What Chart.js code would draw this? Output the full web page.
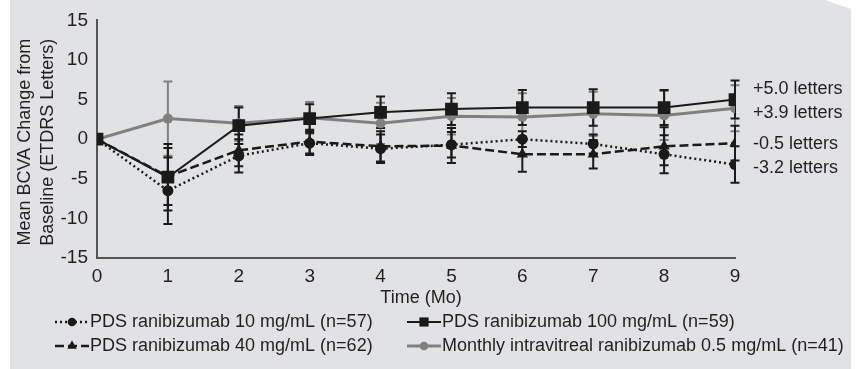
<!DOCTYPE html>
<html>
<head>
<meta charset="utf-8">
<script src="https://cdn.jsdelivr.net/npm/chart.js@4/dist/chart.umd.min.js"></script>
<style>
  html, body { margin: 0; padding: 0; background: #ffffff; }
  #wrap { position: relative; width: 857px; height: 369px; }
  #panel { position: absolute; left: 0; top: 0; width: 857px; height: 369px; background: #e1e2e4;
           clip-path: polygon(10px 0, 825px 0, 851px 9px, 851px 369px, 10px 369px); }
  canvas { position: absolute; left: 0; top: 0; }
</style>
</head>
<body>
<div id="wrap">
  <div id="panel"></div>
  <canvas id="c" width="857" height="369"></canvas>
</div>
<script>
// ---- data ----
const months = [0, 1, 2, 3, 4, 5, 6, 7, 8, 9];
const xTickLabels = ['0', '1', '2', '3', '4', '5', '6', '7', '8', '9'];
const yTickValues = [-15, -10, -5, 0, 5, 10, 15];

const seriesNames = [
  'PDS ranibizumab 10 mg/mL (n=57)',
  'PDS ranibizumab 40 mg/mL (n=62)',
  'PDS ranibizumab 100 mg/mL (n=59)',
  'Monthly intravitreal ranibizumab 0.5 mg/mL (n=41)'
];

const pds10    = [0, -6.5, -2.1, -0.5, -1.2, -0.7,  0.0, -0.6, -1.9, -3.2];
const pds10Err = [0,  4.2,  2.1,  1.5,  1.8,  1.6,  1.0,  1.2,  2.4,  2.3];

const pds40    = [0, -4.7, -1.4, -0.3, -0.9, -0.8, -1.9, -1.9, -0.9, -0.5];
const pds40Err = [0,  3.6,  2.0,  1.5,  1.9,  2.2,  2.2,  1.8,  2.4,  2.2];

const pds100    = [0, -4.8, 1.7, 2.6, 3.4, 3.8, 4.0, 4.0, 4.0, 5.0];
const pds100Err = [0,  4.2, 2.3, 1.8, 2.0, 2.0, 2.2, 2.3, 2.2, 2.4];

const monthly    = [0, 2.6, 2.0, 2.7, 2.0, 2.9, 2.8, 3.2, 3.0, 3.9];
const monthlyErr = [0, 4.7, 2.2, 2.0, 2.6, 2.3, 3.0, 2.8, 3.1, 2.9];

const endLabels = ['-3.2 letters', '-0.5 letters', '+5.0 letters', '+3.9 letters'];

const yTitle = ['Mean BCVA Change from', 'Baseline (ETDRS Letters)'];
const xTitle = 'Time (Mo)';

// ---- styling ----
const FONT = '"Liberation Sans", Arial, Helvetica, sans-serif';
const TXT = '#231f20';
const BLACK = '#1a1a1a';
const GRAY = '#808080';

function pts(vals) { return months.map((m, i) => ({ x: m, y: vals[i] })); }

const datasets = [
  { label: seriesNames[0], data: pts(pds10), errors: pds10Err, endLabel: endLabels[0], endOffset: 3,
    borderColor: BLACK, backgroundColor: BLACK, borderWidth: 2.5, borderDash: [2, 3],
    pointStyle: 'circle', pointRadius: 5.5, legendRadius: 4.3, order: 1 },
  { label: seriesNames[1], data: pts(pds40), errors: pds40Err, endLabel: endLabels[1], endOffset: 1,
    borderColor: BLACK, backgroundColor: BLACK, borderWidth: 2.5, borderDash: [9, 4],
    pointStyle: 'triangle', pointRadius: 6.5, legendRadius: 5.5, order: 2 },
  { label: seriesNames[2], data: pts(pds100), errors: pds100Err, endLabel: endLabels[2], endOffset: -11,
    borderColor: BLACK, backgroundColor: BLACK, borderWidth: 2, borderDash: [],
    pointStyle: 'rect', pointRadius: 9, legendRadius: 6.5, order: 3 },
  { label: seriesNames[3], data: pts(monthly), errors: monthlyErr, endLabel: endLabels[3], endOffset: 5,
    borderColor: GRAY, backgroundColor: GRAY, borderWidth: 3, borderDash: [],
    pointStyle: 'circle', pointRadius: 5, legendRadius: 4.3, order: 4 }
];
datasets.forEach(d => {
  d.pointBackgroundColor = d.borderColor;
  d.pointBorderColor = d.borderColor;
  d.pointBorderWidth = 0;
  d.pointHoverRadius = d.pointRadius;
  d.tension = 0;
  d.fill = false;
});

const errorBarPlugin = {
  id: 'errorBars',
  beforeDatasetsDraw(chart) {
    const ctx = chart.ctx, xs = chart.scales.x, ys = chart.scales.y;
    const order = [3, 0, 1, 2];
    ctx.save();
    order.forEach(di => {
      const ds = chart.data.datasets[di];
      ctx.strokeStyle = ds.borderColor;
      ctx.lineWidth = 2;
      ctx.setLineDash([]);
      ds.data.forEach((p, i) => {
        const e = ds.errors[i];
        if (!e) return;
        const px = xs.getPixelForValue(p.x);
        const y1 = ys.getPixelForValue(p.y + e);
        const y2 = ys.getPixelForValue(p.y - e);
        ctx.beginPath();
        ctx.moveTo(px, y1); ctx.lineTo(px, y2);
        ctx.moveTo(px - 4.5, y1); ctx.lineTo(px + 4.5, y1);
        ctx.moveTo(px - 4.5, y2); ctx.lineTo(px + 4.5, y2);
        ctx.stroke();
      });
    });
    ctx.restore();
  }
};

const annotPlugin = {
  id: 'annot',
  afterDraw(chart) {
    const ctx = chart.ctx, xs = chart.scales.x, ys = chart.scales.y;
    const area = chart.chartArea;
    ctx.save();
    ctx.fillStyle = TXT;
    ctx.font = '18px ' + FONT;
    ctx.textBaseline = 'middle';

    // end-of-line labels
    ctx.textAlign = 'left';
    chart.data.datasets.forEach(ds => {
      const last = ds.data[ds.data.length - 1];
      const y = ys.getPixelForValue(last.y) + ds.endOffset;
      ctx.fillText(ds.endLabel, area.right + 18, y);
    });

    // x title
    ctx.textAlign = 'center';
    ctx.fillText(xTitle, (area.left + area.right) / 2 + 5, area.bottom + 40);

    // y title (two lines, rotated)
    ctx.save();
    ctx.translate(25, (area.top + area.bottom) / 2 + 3);
    ctx.rotate(-Math.PI / 2);
    ctx.fillText(yTitle[0], 0, 0);
    ctx.fillText(yTitle[1], 0, 23);
    ctx.restore();

    // legend
    const slots = [
      { x: 55, y: 322 }, { x: 55, y: 346 },
      { x: 407, y: 322 }, { x: 407, y: 346 }
    ];
    chart.data.datasets.forEach((ds, i) => {
      const s = slots[i];
      const w = 34;
      ctx.save();
      ctx.strokeStyle = ds.borderColor;
      ctx.lineWidth = ds.borderWidth;
      ctx.setLineDash(ds.borderDash || []);
      ctx.beginPath();
      ctx.moveTo(s.x, s.y); ctx.lineTo(s.x + w, s.y);
      ctx.stroke();
      ctx.setLineDash([]);
      ctx.fillStyle = ds.borderColor;
      Chart.helpers.drawPoint(ctx, { pointStyle: ds.pointStyle, radius: ds.legendRadius, rotation: 0, borderWidth: 0 }, s.x + w / 2, s.y);
      ctx.restore();
      ctx.textAlign = 'left';
      ctx.fillStyle = TXT;
      ctx.fillText(ds.label, s.x + w + 1, s.y);
    });
    ctx.restore();
  }
};

new Chart(document.getElementById('c'), {
  type: 'line',
  data: { datasets },
  plugins: [errorBarPlugin, annotPlugin],
  options: {
    responsive: false,
    animation: false,
    devicePixelRatio: 1,
    layout: { padding: { top: 19, right: 122, left: 0, bottom: 0 } },
    plugins: { legend: { display: false }, tooltip: { enabled: false } },
    scales: {
      x: {
        type: 'linear', min: 0, max: 9,
        afterFit: s => { s.height = 111; },
        afterBuildTicks: s => { s.ticks = months.map(v => ({ value: v })); },
        ticks: { callback: (v, i) => xTickLabels[i], color: TXT, padding: 7,
                 font: { family: FONT, size: 19 }, maxRotation: 0, autoSkip: false },
        grid: { display: false, drawTicks: false },
        border: { display: true, color: '#555555', width: 2 }
      },
      y: {
        type: 'linear', min: -15, max: 15,
        afterFit: s => { s.width = 97; },
        afterBuildTicks: s => { s.ticks = yTickValues.map(v => ({ value: v })); },
        ticks: { color: TXT, padding: 9, font: { family: FONT, size: 19 } },
        grid: { display: false, drawTicks: false },
        border: { display: true, color: '#555555', width: 2 }
      }
    }
  }
});
</script>
</body>
</html>
